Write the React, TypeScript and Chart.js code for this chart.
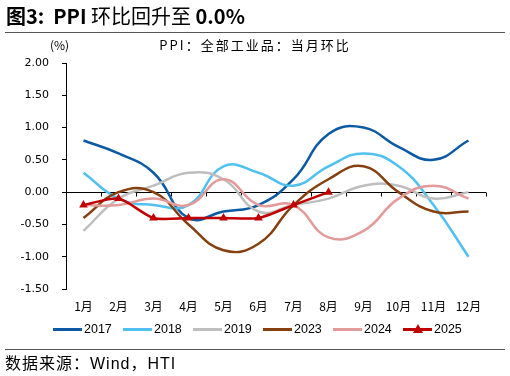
import React, { useEffect, useRef } from "react";
import { Chart, registerables } from "chart.js";

Chart.register(...registerables);

const months = ["1月", "2月", "3月", "4月", "5月", "6月", "7月", "8月", "9月", "10月", "11月", "12月"];
const y2017 = [0.8, 0.6, 0.3, -0.4, -0.3, -0.2, 0.2, 0.9, 1.0, 0.7, 0.5, 0.8];
const y2018 = [0.3, -0.1, -0.2, -0.2, 0.4, 0.3, 0.1, 0.4, 0.6, 0.4, -0.2, -1.0];
const y2019 = [-0.6, -0.1, 0.1, 0.3, 0.2, -0.3, -0.2, -0.1, 0.1, 0.1, -0.1, 0.0];
const y2023 = [-0.4, 0.0, 0.0, -0.5, -0.9, -0.8, -0.2, 0.2, 0.4, 0.0, -0.3, -0.3];
const y2024 = [-0.2, -0.2, -0.1, -0.2, 0.2, -0.2, -0.2, -0.7, -0.6, -0.1, 0.1, -0.1];
const y2025 = [-0.2, -0.1, -0.4, -0.4, -0.4, -0.4, -0.2, 0.0];
const yTicks = [2.0, 1.5, 1.0, 0.5, 0.0, -0.5, -1.0, -1.5];

const series = [
  { label: "2017", data: y2017, color: "#0C5AA3", marker: false },
  { label: "2018", data: y2018, color: "#50C0F0", marker: false },
  { label: "2019", data: y2019, color: "#BEBEBE", marker: false },
  { label: "2023", data: y2023, color: "#86400F", marker: false },
  { label: "2024", data: y2024, color: "#E39A9A", marker: false },
  { label: "2025", data: y2025, color: "#C00000", marker: true },
];

const CJK = '"Noto Sans CJK SC", "Noto Sans", sans-serif';
const LAT = '"Liberation Sans", Arial, sans-serif';

const zeroAxis = {
  id: "zeroAxis",
  beforeDatasetsDraw(chart: any) {
    const { ctx, chartArea, scales } = chart;
    const y0 = Math.round(scales.y.getPixelForValue(0)) + 0.5;
    const { left, right } = chartArea;
    ctx.save();
    ctx.strokeStyle = "#000";
    ctx.lineWidth = 1;
    ctx.beginPath();
    ctx.moveTo(left, y0);
    ctx.lineTo(right, y0);
    for (let k = 1; k <= 12; k++) {
      const xx = Math.round(left + ((right - left) * k) / 12) + 0.5;
      ctx.moveTo(xx, y0);
      ctx.lineTo(xx, y0 + 4);
    }
    ctx.stroke();
    ctx.restore();
  },
};

export default function App() {
  const ref = useRef<HTMLCanvasElement>(null);
  useEffect(() => {
    if (!ref.current) return;
    const chart = new Chart(ref.current, {
      type: "line",
      data: {
        labels: months,
        datasets: series.map((s, i) => ({
          label: s.label,
          data: s.data,
          borderColor: s.color,
          backgroundColor: s.color,
          borderWidth: 2.5,
          tension: s.marker ? 0.25 : 0.45,
          pointRadius: s.marker ? 5 : 0,
          pointStyle: "triangle",
          pointBorderWidth: 0,
          pointHoverRadius: 0,
          order: series.length - i,
          fill: false,
        })),
      },
      plugins: [zeroAxis],
      options: {
        animation: false,
        responsive: false,
        devicePixelRatio: 1,
        layout: { padding: { top: 63, right: 24, left: 0, bottom: 0 } },
        plugins: { legend: { display: false }, tooltip: { enabled: false } },
        scales: {
          x: {
            offset: true,
            grid: { display: false },
            border: { display: false },
            ticks: { color: "#000", font: { family: CJK, size: 12 }, padding: 2, maxRotation: 0, autoSkip: false },
            afterFit: (s: any) => { s.height = 87; },
          },
          y: {
            min: -1.5,
            max: 2,
            afterBuildTicks: (s: any) => { s.ticks = yTicks.map((v) => ({ value: v })); },
            grid: { drawOnChartArea: false, drawTicks: true, tickLength: 4, color: "#000" },
            border: { display: true, color: "#000", width: 1 },
            ticks: {
              color: "#000",
              padding: 13,
              font: { family: '"DejaVu Sans", sans-serif', size: 11 },
              callback: (v: any) => Number(v).toFixed(2),
            },
            afterFit: (s: any) => { s.width = 66; },
          },
        },
      },
    });
    return () => chart.destroy();
  }, []);

  const abs = (l: number, t: number, extra: any = {}) => ({
    position: "absolute" as const, left: l, top: t, whiteSpace: "nowrap" as const, ...extra,
  });

  return (
    <div style={{ position: "absolute", left: 0, top: 0, width: 510, height: 376, background: "#fff", overflow: "hidden", fontFamily: CJK }}>
      <canvas ref={ref} width={510} height={376} style={{ position: "absolute", left: 0, top: 0 }} />
      <div style={abs(6, 2, { fontSize: 20, lineHeight: "28px", color: "#000" })}>
        <span style={{ fontWeight: "bold" }}>图3:</span>&nbsp;&nbsp;<span style={{ fontWeight: "bold" }}>PPI</span> 环比回升至 <span style={{ fontWeight: "bold" }}>0.0%</span>
      </div>
      <div style={abs(5, 32, { width: 500, height: 0, borderTop: "1.5px solid #555" })} />
      <div style={abs(50, 37, { fontSize: 12, lineHeight: "16px", color: "#000" })}>(%)</div>
      <div style={abs(0, 37, { width: 510, textAlign: "center", fontSize: 13, letterSpacing: "2px", lineHeight: "16px", color: "#000" })}>
        PPI：全部工业品：当月环比
      </div>
      <div style={abs(0, 320, { width: 510, height: 18 })}>
        {series.map((s, i) => (
          <div key={s.label} style={abs(53 + i * 70, 0, { height: 18 })}>
            <div style={abs(0, 8, { width: 29, height: 2.5, background: s.color })} />
            {s.marker && (
              <div style={abs(9.5, 3.5, { width: 0, height: 0, borderLeft: "5px solid transparent", borderRight: "5px solid transparent", borderBottom: "9px solid " + s.color })} />
            )}
            <div style={abs(31, 1, { fontSize: 12.5, lineHeight: "16px", fontFamily: LAT, color: "#000" })}>{s.label}</div>
          </div>
        ))}
      </div>
      <div style={abs(5, 349, { width: 500, height: 0, borderTop: "1.5px solid #555" })} />
      <div style={abs(5, 351, { fontSize: 16, letterSpacing: "1px", lineHeight: "22px", color: "#000" })}>
        数据来源：<span style={{ fontFamily: LAT }}>Wind</span>，<span style={{ fontFamily: LAT }}>HTI</span>
      </div>
    </div>
  );
}
